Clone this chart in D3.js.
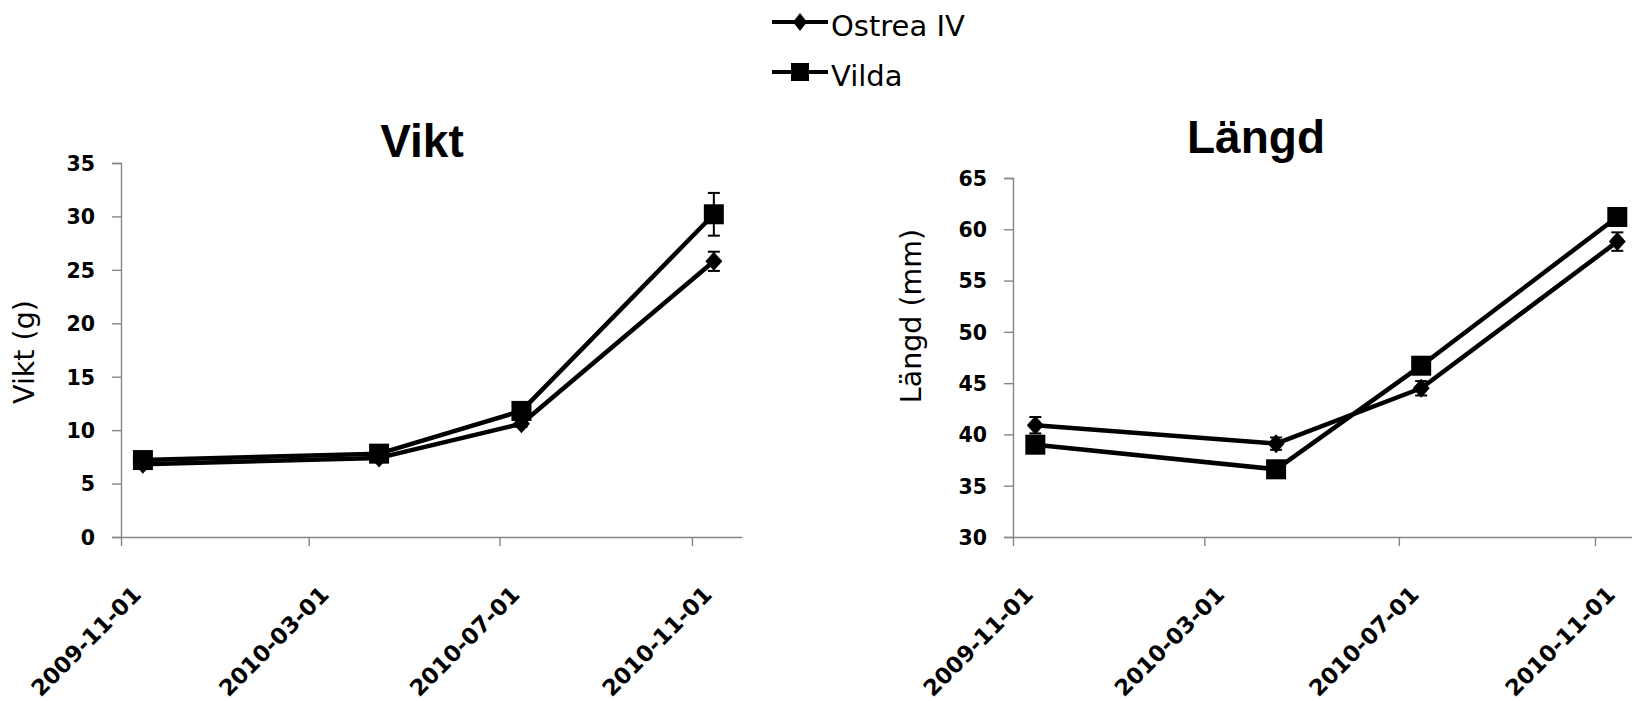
<!DOCTYPE html>
<html>
<head>
<meta charset="utf-8">
<script src="https://cdn.jsdelivr.net/npm/d3@7"></script>
<style>
  html, body { margin: 0; padding: 0; background: #fff; }
  svg { display: block; }
</style>
</head>
<body>
<svg id="chart" width="1632" height="701"></svg>
<script>
// ---------------- DATA ----------------
const sampleDates = ["2009-11-15", "2010-04-15", "2010-07-15", "2010-11-15"];
const tickDates = ["2009-11-01", "2010-03-01", "2010-07-01", "2010-11-01"];
const seriesNames = ["Ostrea IV", "Vilda"];

const viktOstrea = [6.8, 7.4, 10.6, 25.8];
const viktOstreaErr = [0.2, 0.2, 0.3, 0.9];
const viktVilda = [7.2, 7.8, 11.8, 30.2];
const viktVildaErr = [0.3, 0.3, 0.4, 2.0];

const langdOstrea = [40.9, 39.1, 44.5, 58.8];
const langdOstreaErr = [0.8, 0.6, 0.7, 0.9];
const langdVilda = [39.0, 36.6, 46.7, 61.2];
const langdVildaErr = [0.3, 0.3, 0.3, 0.5];

const viktTicks = [0, 5, 10, 15, 20, 25, 30, 35];
const langdTicks = [30, 35, 40, 45, 50, 55, 60, 65];
// --------------------------------------

const parse = d3.timeParse("%Y-%m-%d");
const fmt = d3.timeFormat("%Y-%m-%d");
const svg = d3.select("#chart");
const axisColor = "#858585";

function diamondPath(hw, hh) {
  return `M0,${-hh}L${hw},0L0,${hh}L${-hw},0Z`;
}

function drawPanel(cfg) {
  const g = svg.append("g");
  const x = d3.scaleTime()
    .domain([parse("2009-11-01"), parse("2010-12-03")])
    .range([cfg.x0, cfg.x1]);
  const y = d3.scaleLinear().domain(cfg.yDomain).range([cfg.yBottom, cfg.yTop]);

  // y axis
  const ya = g.append("g").attr("transform", `translate(${cfg.x0},0)`)
    .call(d3.axisLeft(y).tickValues(cfg.yTicks).tickSize(9).tickPadding(17).tickFormat(d3.format("d")));
  ya.select(".domain").attr("stroke", axisColor).attr("stroke-width", 1.4);
  ya.selectAll(".tick line").attr("stroke", axisColor).attr("stroke-width", 1.4);
  ya.selectAll(".tick text")
    .attr("font-family", "DejaVu Sans").attr("font-weight", "bold")
    .attr("font-size", 20.5).attr("fill", "#000").attr("dy", "0.36em");

  // x axis
  const xa = g.append("g").attr("transform", `translate(0,${cfg.yBottom})`)
    .call(d3.axisBottom(x).tickValues(tickDates.map(parse)).tickSize(9).tickSizeOuter(0).tickFormat(fmt));
  xa.select(".domain").attr("stroke", axisColor).attr("stroke-width", 1.4);
  xa.selectAll(".tick line").attr("stroke", axisColor).attr("stroke-width", 1.4);
  xa.selectAll(".tick text")
    .attr("font-family", "DejaVu Sans").attr("font-weight", "bold")
    .attr("font-size", 22.5).attr("fill", "#000")
    .attr("text-anchor", "end")
    .attr("y", 0).attr("dy", 0)
    .attr("transform", "translate(21,59) rotate(-45)");

  // title
  g.append("text").attr("x", cfg.titleX).attr("y", cfg.titleY)
    .attr("text-anchor", "middle")
    .attr("font-family", "Liberation Sans, Arial, sans-serif").attr("font-weight", "bold")
    .attr("font-size", 46).text(cfg.title);

  // y label
  g.append("text")
    .attr("transform", `translate(${cfg.ylabX},${cfg.ylabY}) rotate(-90)`)
    .attr("text-anchor", "middle")
    .attr("font-family", "DejaVu Sans").attr("font-size", 28.5)
    .text(cfg.ylabel);

  const dates = sampleDates.map(parse);
  const line = d3.line().x((d, i) => x(dates[i])).y(d => y(d));

  cfg.series.forEach((s) => {
    const sg = g.append("g");
    sg.append("path").datum(s.values).attr("d", line)
      .attr("fill", "none").attr("stroke", "#000").attr("stroke-width", 4.5)
      .attr("stroke-linejoin", "round");
    // error bars
    s.values.forEach((v, i) => {
      const cx = x(dates[i]);
      const yt = y(v + s.err[i]), yb = y(v - s.err[i]);
      sg.append("line").attr("x1", cx).attr("x2", cx).attr("y1", yt).attr("y2", yb)
        .attr("stroke", "#000").attr("stroke-width", 2);
      [yt, yb].forEach(yy => sg.append("line").attr("x1", cx - 6).attr("x2", cx + 6)
        .attr("y1", yy).attr("y2", yy).attr("stroke", "#000").attr("stroke-width", 2));
    });
    // markers
    s.values.forEach((v, i) => {
      const cx = x(dates[i]), cy = y(v);
      if (s.marker === "diamond") {
        sg.append("path").attr("d", diamondPath(8.5, 9.5))
          .attr("transform", `translate(${cx},${cy})`).attr("fill", "#000");
      } else {
        sg.append("rect").attr("x", cx - 10).attr("y", cy - 10)
          .attr("width", 20).attr("height", 20).attr("fill", "#000");
      }
    });
  });
}

drawPanel({
  x0: 121, x1: 742, yBottom: 537, yTop: 163, yDomain: [0, 35], yTicks: viktTicks,
  title: "Vikt", titleX: 422, titleY: 157,
  ylabel: "Vikt (g)", ylabX: 34, ylabY: 352,
  series: [
    { name: seriesNames[0], values: viktOstrea, err: viktOstreaErr, marker: "diamond" },
    { name: seriesNames[1], values: viktVilda, err: viktVildaErr, marker: "square" }
  ]
});

drawPanel({
  x0: 1013, x1: 1646, yBottom: 537, yTop: 178, yDomain: [30, 65], yTicks: langdTicks,
  title: "Längd", titleX: 1256, titleY: 153,
  ylabel: "Längd (mm)", ylabX: 921, ylabY: 316,
  series: [
    { name: seriesNames[0], values: langdOstrea, err: langdOstreaErr, marker: "diamond" },
    { name: seriesNames[1], values: langdVilda, err: langdVildaErr, marker: "square" }
  ]
});

// legend
const legend = svg.append("g");
const legendY = [22, 72];
seriesNames.forEach((name, i) => {
  const ly = legendY[i];
  legend.append("line").attr("x1", 772).attr("x2", 828).attr("y1", ly).attr("y2", ly)
    .attr("stroke", "#000").attr("stroke-width", 4);
  if (i === 0) {
    legend.append("path").attr("d", diamondPath(7, 9)).attr("transform", `translate(800,${ly})`).attr("fill", "#000");
  } else {
    legend.append("rect").attr("x", 791).attr("y", ly - 9).attr("width", 18).attr("height", 18).attr("fill", "#000");
  }
  legend.append("text").attr("x", 831).attr("y", ly + 14)
    .attr("font-family", "DejaVu Sans").attr("font-size", 29).text(name);
});
</script>
</body>
</html>
